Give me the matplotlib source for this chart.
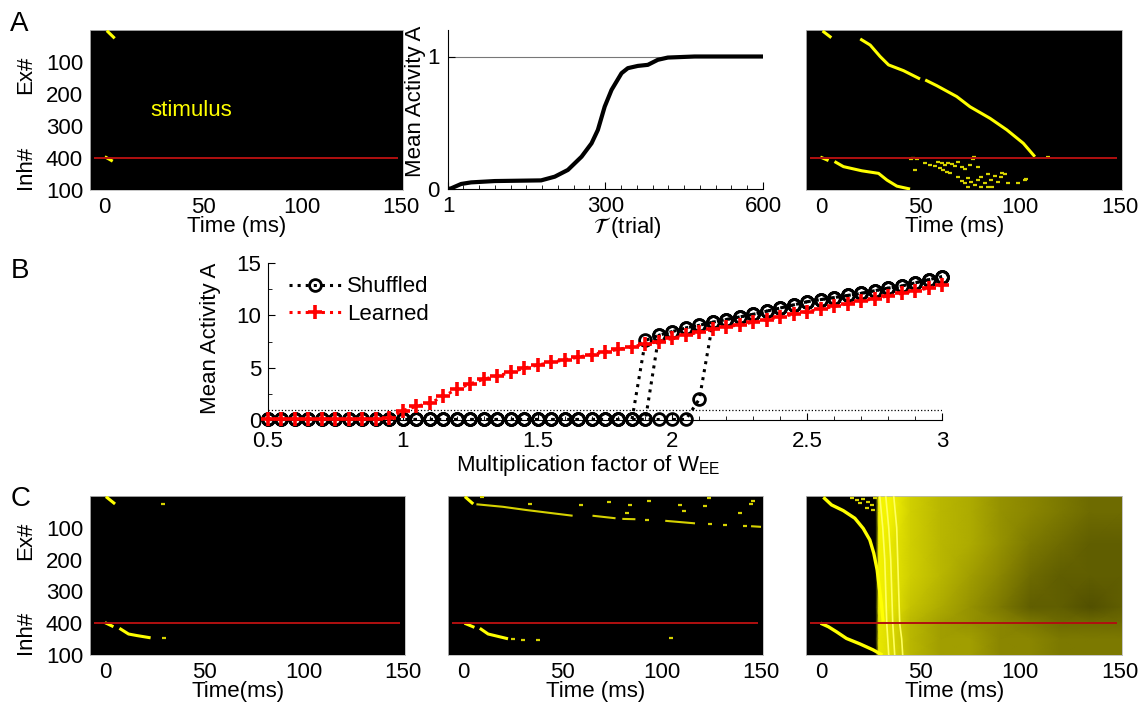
import matplotlib
matplotlib.use("Agg")
import matplotlib.pyplot as plt
import numpy as np
from matplotlib.colors import LinearSegmentedColormap
from matplotlib.ticker import MultipleLocator, FixedLocator

plt.rcParams["font.family"] = ["Liberation Sans", "DejaVu Sans"]
plt.rcParams["font.size"] = 16

YEL = "#ffff00"
DIM = "#d6d200"
RED = "#b01010"

# ---------------- data ----------------
# A, middle: learning curve
trial = [1, 7, 26, 45, 90, 178, 204, 229, 255, 274, 286, 299, 312, 331,
         343, 362, 381, 400, 419, 470, 600]
act = [0.0, 0.005, 0.038, 0.05, 0.06, 0.065, 0.093, 0.144, 0.244, 0.345,
       0.446, 0.622, 0.748, 0.874, 0.912, 0.929, 0.937, 0.975, 0.992, 1.0, 1.0]

# B: mean activity vs W_EE factor
factor = [0.50, 0.55, 0.60, 0.65, 0.70, 0.75, 0.80, 0.85, 0.90, 0.95,
          1.00, 1.05, 1.10, 1.15, 1.20, 1.25, 1.30, 1.35, 1.40, 1.45,
          1.50, 1.55, 1.60, 1.65, 1.70, 1.75, 1.80, 1.85, 1.90, 1.95,
          2.00, 2.05, 2.10, 2.15, 2.20, 2.25, 2.30, 2.35, 2.40, 2.45,
          2.50, 2.55, 2.60, 2.65, 2.70, 2.75, 2.80, 2.85, 2.90, 2.95, 3.00]
learned = [0.1] * 9 + [0.2,
           0.9, 1.3, 1.6, 2.25, 2.95, 3.45, 3.9, 4.2, 4.55, 4.95,
           5.25, 5.5, 5.75, 6.0, 6.25, 6.5, 6.75, 7.0, 7.25, 7.5,
           7.8, 8.1, 8.4, 8.65, 8.9, 9.1, 9.35, 9.6, 9.85, 10.1,
           10.35, 10.6, 10.85, 11.1, 11.35, 11.6, 11.85, 12.1, 12.35, 12.6, 12.9]
shuf_tail = [7.6, 8.1, 8.45, 8.8, 9.05, 9.35, 9.6, 9.85, 10.1, 10.4, 10.7,
             11.0, 11.3, 11.5, 11.7, 11.9, 12.1, 12.35, 12.6, 12.8, 13.1,
             13.4, 13.7]                      # from factor 1.9 onwards
shuf_run1 = [0.05] * 28 + shuf_tail           # jumps at 1.90
shuf_run2 = [0.05] * 29 + shuf_tail[1:]       # jumps at 1.95
shuf_run3 = [0.05] * 32 + [2.0] + shuf_tail[5:]  # jumps at 2.10 / 2.15

# raster chains: (time ms, neuron #) polylines
A1_ex = ([1, 5], [2, 26])
A1_inh = ([0, 4], [396, 410])

A3_ex1 = ([0.8, 5.2], [3, 24])
A3_ex2 = ([19.7, 24.7, 29.7, 33.9, 41.4, 49.7], [28, 47, 83, 109, 127, 153])
A3_ex3 = ([52.3, 58.1, 68.1, 74.8, 84.8, 93.2, 101.5, 107.3],
          [156, 174, 208, 240, 276, 312, 354, 396])
A3_inh1 = ([-0.3, 3.8], [397, 408])
A3_inh2 = ([6.8, 11.3, 20.5, 28.9, 33.1, 38.1, 44.7],
           [411, 427, 440, 448, 469, 488, 497])
A3_dash_t = [44, 45.3, 47, 51.2, 53.7, 56.2, 57.8, 58.7, 59.5, 60.3, 61.2, 62,
             62.8, 63.7, 64.5, 66.2, 67.8, 67.8, 69.5, 69.5, 71.2, 71.2, 72.8,
             72.8, 73.7, 74.5, 75.3, 76.2, 77.8, 77.8, 79.5, 79.5, 81.2, 82.8,
             82.8, 84.5, 86.2, 87.8, 89.5, 91.2, 92.8, 97.8, 101.2, 46.2, 90,
             85, 102, 76, 113]
A3_dash_n = [404, 401, 404, 417, 421, 425, 411, 432, 417, 438, 422, 443,
             415, 448, 419, 425, 411, 460, 427, 471, 435, 479, 464,
             490, 422, 474, 402, 484, 429, 469, 458, 490, 479, 450,
             492, 469, 456, 474, 460, 450, 477, 479, 469, 438, 448,
             490, 467, 398, 398]

C1_ex = ([0.5, 5.1], [2, 25])
C1_inh1 = ([0, 4.3], [398, 411])
C1_inh2 = ([7.3, 11.9, 16.2, 23.0], [416, 434, 439, 446])
C1_dash_t = [28.4, 28.6]
C1_dash_n = [26, 446]

C2_ex1 = ([1, 5.2], [2, 25])
C2_ex2 = ([6.8, 20.2, 31.8, 55.2], [26, 34, 44, 62])
C2_ex3 = ([65.2, 76.8], [62, 70])
C2_ex4 = ([80.2, 86.8], [72, 73])
C2_ex5 = ([101.8, 116.8], [78, 86])
C2_ex6 = ([145, 150], [95, 97])
C2_dash_t = [91.8, 123.5, 131, 141, 8.5, 32.7, 58.3, 72.5, 81.7, 83.3, 92.5,
             108.2, 110.2, 121, 122.7, 138.5, 145, 144.2, 24.3, 29.3, 36.8, 103.8]
C2_dash_n = [75, 89, 91, 94, 2, 25, 28, 18, 53, 28, 15,
             28, 47, 33, 7, 53, 15, 25, 450, 452, 453, 446]
C2_inh1 = ([0.8, 5.8], [400, 413])
C2_inh2 = ([8.5, 12.7, 22.7], [416, 434, 449])

C3_ex = ([1.2, 5.3, 11.2, 17, 21.2, 24.5, 26.5, 28.2, 29.2, 30.3, 31.2],
         [4, 28, 46, 70, 102, 138, 180, 233, 285, 337, 395])
C3_inh = ([-0.2, 3.7, 7.8, 12.8, 19.5, 26.2, 30.8],
          [400, 411, 427, 448, 465, 484, 500])
C3_waves = [([29.5, 31, 32, 32.5, 33, 33.5, 34], [0, 100, 200, 300, 400, 450, 500]),
            ([32.5, 34, 35, 35.5, 36, 36.5, 37], [0, 100, 200, 300, 400, 450, 500]),
            ([36.5, 38, 38.5, 39, 39.5, 40.5, 41], [0, 100, 200, 300, 400, 450, 500])]
C3_dash_t = [14.5, 17, 18.7, 20.3, 22.8, 24.5, 22, 25.3, 26.2]
C3_dash_n = [7, 13, 23, 11, 18, 28, 39, 44, 7]
# spike density of the chaotic region (fraction of yellow)
dens_t = [27.5, 29, 35, 45, 60, 75, 90, 105, 120, 135, 151]
dens_n = [0, 50, 150, 250, 350, 400, 450, 500]
dens = [[0, 0.95, 0.95, 0.8, 0.7, 0.65, 0.55, 0.5, 0.45, 0.4, 0.4],
        [0, 0.95, 0.95, 0.8, 0.7, 0.65, 0.55, 0.5, 0.45, 0.4, 0.4],
        [0, 0.95, 0.9, 0.8, 0.7, 0.65, 0.55, 0.45, 0.4, 0.35, 0.35],
        [0, 0.95, 0.9, 0.8, 0.7, 0.6, 0.5, 0.4, 0.35, 0.35, 0.35],
        [0, 0.95, 0.9, 0.75, 0.65, 0.55, 0.45, 0.35, 0.35, 0.3, 0.35],
        [0, 0.9, 0.85, 0.7, 0.6, 0.55, 0.5, 0.45, 0.4, 0.4, 0.4],
        [0, 0.9, 0.85, 0.7, 0.6, 0.6, 0.5, 0.5, 0.45, 0.45, 0.45],
        [0, 0.9, 0.85, 0.7, 0.6, 0.6, 0.5, 0.5, 0.45, 0.45, 0.45]]

# ---------------- figure ----------------
fig = plt.figure(figsize=(11.39, 7.11), dpi=100)


def frac(x0, y0, x1, y1):
    W, H = 1139.0, 711.0
    return [x0 / W, 1 - y1 / H, (x1 - x0) / W, (y1 - y0) / H]


def raster_axes(rect, xlabel="Time (ms)", ylabels=True):
    ax = fig.add_axes(frac(*rect))
    ax.set_facecolor("black")
    ax.set_xlim(-7.5, 151)
    ax.set_ylim(500, 0)
    ax.set_xticks([0, 50, 100, 150])
    ax.set_yticks([100, 200, 300, 400, 500])
    ax.set_yticklabels(["100", "200", "300", "400", "100"])
    ax.tick_params(direction="in", length=0, pad=5)
    for s in ax.spines.values():
        s.set_color("#bbbbbb")
        s.set_linewidth(0.6)
    ax.set_xlabel(xlabel, labelpad=0)
    ax.xaxis.set_label_coords(0.47, -0.165)
    ax.xaxis.label.set_va("top")
    if ylabels:
        ax.text(-0.205, 0.72, "Ex#", rotation=90, transform=ax.transAxes,
                ha="center", va="center")
        ax.text(-0.205, 0.14, "Inh#", rotation=90, transform=ax.transAxes,
                ha="center", va="center")
    else:
        ax.set_yticklabels([])
    ax.hlines(400, -5.5, 148.5, color=RED, lw=1.4, zorder=4)
    return ax


def chain(ax, c, lw=2.2, color=YEL):
    ax.plot(c[0], c[1], color=color, lw=lw, solid_capstyle="butt", zorder=3)


def dashes(ax, ts, ns, color=DIM, dur=2.0, lw=1.6):
    ts = np.asarray(ts, float)
    ax.hlines(ns, ts, ts + dur, color=color, lw=lw, zorder=3)


# ---- A left ----
ax = raster_axes((90, 30, 403, 190))
chain(ax, A1_ex)
chain(ax, A1_inh)
ax.text(23, 250, "stimulus", color=YEL, va="center", fontsize=16)

# ---- A middle ----
ax = fig.add_axes(frac(448, 30, 763, 189))
ax.plot(trial, act, color="black", lw=3.0, solid_capstyle="round")
ax.axhline(1, color="#777777", lw=0.8, zorder=0)
ax.set_xlim(1, 600)
ax.set_ylim(0, 1.2)
ax.set_xticks([1, 300, 600])
ax.xaxis.set_minor_locator(FixedLocator(list(range(30, 600, 30))))
ax.set_yticks([0, 1])
for s in ("top", "right"):
    ax.spines[s].set_visible(False)
ax.tick_params(which="major", direction="in", length=5, pad=5)
ax.tick_params(axis="y", which="major", pad=6)
ax.tick_params(which="minor", direction="in", length=3)
ax.set_ylabel("Mean Activity A")
ax.yaxis.set_label_coords(-0.07, 0.55)
ax.set_xlabel(r"$\mathcal{T}$ (trial)", math_fontfamily="stix")
ax.xaxis.set_label_coords(0.57, -0.165)
ax.xaxis.label.set_va("top")

# ---- A right ----
ax = raster_axes((806, 30, 1122, 190), ylabels=False)
for c in (A3_ex1, A3_ex2, A3_ex3, A3_inh1, A3_inh2):
    chain(ax, c)
dashes(ax, A3_dash_t, A3_dash_n)

# ---- B ----
ax = fig.add_axes(frac(268, 263, 942, 420))
ax.axhline(1, color="black", ls=":", lw=0.9, zorder=1)
for run in (shuf_run1, shuf_run2, shuf_run3):
    ax.plot(factor, run, color="black", ls=":", lw=2.2, marker="o",
            ms=8.5, mfc="none", mew=2.0, clip_on=False, zorder=3)
ax.plot(factor, learned, color="red", ls=":", lw=2.2, marker="+",
        ms=10, mew=2.6, clip_on=False, zorder=4)
h1, = ax.plot([], [], color="black", ls=":", lw=2.2, marker="o", ms=8.5,
              mfc="none", mew=2.0)
h2, = ax.plot([], [], color="red", ls=":", lw=2.2, marker="+", ms=10, mew=2.6)
ax.legend([h1, h2], ["Shuffled", "Learned"], loc="upper left",
          bbox_to_anchor=(0.012, 1.0), frameon=False, numpoints=1,
          handlelength=2.3, handletextpad=0.3, labelspacing=0.3,
          borderaxespad=0.2)
ax.set_xlim(0.5, 3)
ax.set_ylim(0, 15)
ax.set_xticks([0.5, 1, 1.5, 2, 2.5, 3])
ax.set_xticklabels(["0.5", "1", "1.5", "2", "2.5", "3"])
ax.xaxis.set_minor_locator(MultipleLocator(0.1))
ax.set_yticks([0, 5, 10, 15])
ax.yaxis.set_minor_locator(MultipleLocator(2.5))
for s in ("top", "right"):
    ax.spines[s].set_visible(False)
ax.tick_params(which="major", direction="in", length=5)
ax.tick_params(axis="x", which="major", pad=8)
ax.tick_params(axis="y", which="major", pad=5)
ax.tick_params(which="minor", direction="in", length=3)
ax.set_ylabel("Mean Activity A")
ax.yaxis.set_label_coords(-0.07, 0.52)
ax.set_xlabel(r"Multiplication factor of W$_{\mathregular{EE}}$")
ax.xaxis.set_label_coords(0.475, -0.21)
ax.xaxis.label.set_va("top")

# ---- C left ----
ax = raster_axes((90, 496, 405, 655), xlabel="Time(ms)")
for c in (C1_ex, C1_inh1, C1_inh2):
    chain(ax, c)
dashes(ax, C1_dash_t, C1_dash_n)

# ---- C middle ----
ax = raster_axes((448, 496, 763, 655), ylabels=False)
chain(ax, C2_ex1)
for c in (C2_ex2, C2_ex3, C2_ex4, C2_ex5, C2_ex6):
    chain(ax, c, lw=1.5, color=DIM)
chain(ax, C2_inh1)
chain(ax, C2_inh2)
dashes(ax, C2_dash_t, C2_dash_n)

# ---- C right ----
ax = raster_axes((806, 496, 1122, 655), ylabels=False)
cmap = LinearSegmentedColormap.from_list("ky", ["black", "#8a8600", YEL])
T, N = np.meshgrid(dens_t, dens_n)
ax.pcolormesh(T, N, np.array(dens), cmap=cmap, vmin=0, vmax=1,
              shading="gouraud", zorder=1)
ax.set_xlim(-7.5, 151)
ax.set_ylim(500, 0)
for c in C3_waves:
    chain(ax, c, lw=1.2, color="#ffff60")
chain(ax, C3_ex, lw=2.4)
chain(ax, C3_inh, lw=2.4)
dashes(ax, C3_dash_t, C3_dash_n)

# panel letters
fig.text(0.009, 0.985, "A", fontsize=20, va="top")
fig.text(0.009, 0.637, "B", fontsize=20, va="top")
fig.text(0.009, 0.317, "C", fontsize=20, va="top")

fig.savefig("out.png", dpi=100)
